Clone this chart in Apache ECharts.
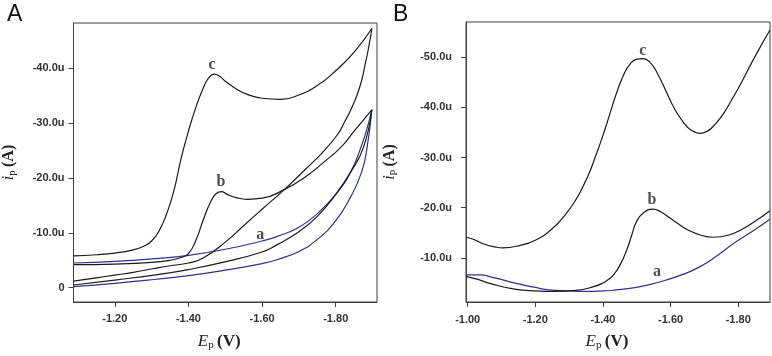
<!DOCTYPE html>
<html>
<head>
<meta charset="utf-8">
<script src="https://cdn.jsdelivr.net/npm/echarts@6/dist/echarts.min.js"></script>
<style>
  html, body { margin: 0; padding: 0; background: #fff; }
  #chart { width: 772px; height: 356px; }
</style>
</head>
<body>
<div id="chart"></div>
<script>
// Panel A: cyclic voltammograms, [E (V), i (uA)]
const aFwdA = [[-1.088,-4.5],[-1.20,-4.8],[-1.307,-5.3],[-1.40,-5.9],[-1.50,-7.0],[-1.60,-8.5],[-1.64,-9.3],[-1.70,-11.0],[-1.75,-13.5],[-1.80,-17.0],[-1.84,-21.0],[-1.868,-25.5],[-1.885,-29.0],[-1.898,-32.4]];
const aRevA = [[-1.898,-32.4],[-1.885,-25.5],[-1.87,-21.0],[-1.84,-16.5],[-1.80,-12.2],[-1.75,-8.8],[-1.70,-6.6],[-1.64,-5.1],[-1.60,-4.4],[-1.50,-3.2],[-1.40,-2.2],[-1.307,-1.5],[-1.20,-0.8],[-1.088,-0.2]];
const bFwdA = [[-1.088,-4.2],[-1.20,-4.3],[-1.30,-4.6],[-1.35,-5.0],[-1.38,-5.5],[-1.40,-6.2],[-1.42,-8.6],[-1.44,-12.3],[-1.46,-15.6],[-1.475,-17.1],[-1.49,-17.5],[-1.505,-17.0],[-1.53,-16.4],[-1.56,-16.1],[-1.60,-16.3],[-1.661,-17.9],[-1.72,-20.3],[-1.77,-23.0],[-1.813,-25.5],[-1.85,-28.5],[-1.898,-32.4]];
const bRevA = [[-1.898,-32.4],[-1.875,-25.5],[-1.84,-21.0],[-1.80,-17.0],[-1.75,-13.0],[-1.70,-10.2],[-1.64,-7.8],[-1.60,-6.5],[-1.493,-4.6],[-1.40,-3.3],[-1.307,-2.3],[-1.20,-1.4],[-1.088,-0.5]];
const cFwdA = [[-1.088,-5.8],[-1.15,-6.0],[-1.20,-6.3],[-1.25,-6.9],[-1.28,-7.6],[-1.30,-8.5],[-1.32,-10.3],[-1.34,-13.3],[-1.36,-17.5],[-1.38,-23.5],[-1.40,-28.5],[-1.42,-32.8],[-1.44,-36.3],[-1.455,-38.2],[-1.47,-38.9],[-1.485,-38.5],[-1.50,-37.6],[-1.53,-36.2],[-1.56,-35.2],[-1.60,-34.5],[-1.65,-34.3],[-1.70,-35.1],[-1.75,-36.8],[-1.80,-39.5],[-1.85,-42.9],[-1.898,-47.2]];
const cRevA = [[-1.898,-47.2],[-1.89,-44.0],[-1.88,-40.7],[-1.865,-36.5],[-1.845,-33.0],[-1.825,-30.3],[-1.805,-27.9],[-1.765,-24.7],[-1.72,-21.7],[-1.661,-17.9],[-1.60,-14.3],[-1.555,-11.6],[-1.50,-8.3],[-1.44,-5.4],[-1.40,-4.5],[-1.35,-4.0],[-1.307,-3.5],[-1.25,-2.8],[-1.20,-2.3],[-1.15,-1.8],[-1.088,-1.2]];

// Panel B: differential pulse voltammograms
const aB = [[-0.995,-6.6],[-1.034,-6.6],[-1.08,-6.0],[-1.143,-4.9],[-1.20,-4.1],[-1.241,-3.6],[-1.30,-3.4],[-1.34,-3.3],[-1.40,-3.4],[-1.438,-3.6],[-1.49,-4.0],[-1.54,-4.7],[-1.588,-5.6],[-1.64,-6.8],[-1.686,-8.2],[-1.735,-10.3],[-1.785,-12.8],[-1.84,-15.2],[-1.894,-17.7]];
const bB = [[-0.995,-6.3],[-1.03,-5.7],[-1.07,-4.8],[-1.143,-3.7],[-1.20,-3.4],[-1.26,-3.3],[-1.32,-3.5],[-1.37,-4.2],[-1.40,-5.0],[-1.418,-5.8],[-1.43,-6.5],[-1.45,-8.5],[-1.47,-11.5],[-1.485,-14.5],[-1.499,-17.2],[-1.52,-19.0],[-1.548,-19.7],[-1.57,-19.2],[-1.595,-18.1],[-1.618,-17.0],[-1.65,-15.6],[-1.69,-14.5],[-1.726,-14.1],[-1.77,-14.5],[-1.814,-15.8],[-1.85,-17.3],[-1.894,-19.4]];
const cB = [[-0.995,-14.1],[-1.02,-13.6],[-1.05,-12.7],[-1.08,-12.2],[-1.103,-12.0],[-1.15,-12.4],[-1.20,-13.5],[-1.25,-15.8],[-1.29,-18.7],[-1.32,-21.6],[-1.34,-24.1],[-1.36,-27.0],[-1.38,-30.6],[-1.40,-34.4],[-1.42,-38.6],[-1.44,-42.8],[-1.46,-46.3],[-1.48,-48.6],[-1.50,-49.6],[-1.519,-49.7],[-1.54,-48.9],[-1.56,-46.9],[-1.588,-43.0],[-1.61,-39.9],[-1.637,-37.1],[-1.66,-35.5],[-1.686,-34.8],[-1.71,-35.3],[-1.73,-36.5],[-1.755,-38.6],[-1.78,-41.4],[-1.81,-45.0],[-1.84,-48.9],[-1.87,-52.6],[-1.894,-55.4]];

// curve labels
const labelsA = [['c',-1.464,-40.5],['b',-1.488,-19.3],['a',-1.595,-9.7]];
const labelsB = [['c',-1.518,-51.3],['b',-1.545,-21.6],['a',-1.560,-7.2]];

// tick labels
const xTicksA = [-1.2,-1.4,-1.6,-1.8];
const xTicksB = [-1.0,-1.2,-1.4,-1.6,-1.8];
const yTicksA = [-40,-30,-20,-10,0];
const yTicksB = [-50,-40,-30,-20,-10];

const BLACK = '#1a1a1a';
const BLUE = '#2e3192';
const FRAME = '#404040';

const chart = echarts.init(document.getElementById('chart'));

function xAxis(idx, min, max, ticks, margin, pad) {
  return {
    type: 'value', gridIndex: idx, inverse: true, min: min, max: max,
    name: '{e|E}{s|p} {v|(V)}', nameLocation: 'middle', nameGap: 31,
    nameTextStyle: {
      padding: [0, pad, 0, 0],
      rich: {
        e: { fontFamily: 'Liberation Serif', fontStyle: 'italic', fontSize: 17, color: '#222' },
        s: { fontFamily: 'Liberation Serif', fontSize: 11, color: '#222', padding: [7, 0, 0, 0] },
        v: { fontFamily: 'Liberation Serif', fontWeight: 'bold', fontSize: 17, color: '#222' }
      }
    },
    axisLine: { show: true, onZero: false, lineStyle: { color: FRAME, width: 1 } },
    axisTick: { show: true, length: 5, customValues: ticks, lineStyle: { color: FRAME } },
    axisLabel: {
      customValues: ticks, margin: margin,
      fontFamily: 'Liberation Sans', fontWeight: 'bold', fontSize: 11, color: '#333',
      formatter: v => v.toFixed(2)
    },
    splitLine: { show: false }
  };
}

function yAxis(idx, min, max, ticks, margin, gap) {
  return {
    type: 'value', gridIndex: idx, inverse: true, min: min, max: max,
    name: '{i|i}{s|p} {a|(A)}', nameLocation: 'middle', nameGap: gap,
    nameTextStyle: {
      rich: {
        i: { fontFamily: 'Liberation Serif', fontStyle: 'italic', fontSize: 16, color: '#222' },
        s: { fontFamily: 'Liberation Serif', fontSize: 11, color: '#222', padding: [6, 0, 0, 0] },
        a: { fontFamily: 'Liberation Serif', fontWeight: 'bold', fontSize: 16, color: '#222' }
      }
    },
    axisLine: { show: true, onZero: false, lineStyle: { color: FRAME, width: 1 } },
    axisTick: { show: true, length: 5, customValues: ticks, lineStyle: { color: FRAME } },
    axisLabel: {
      customValues: ticks, margin: margin,
      fontFamily: 'Liberation Sans', fontWeight: 'bold', fontSize: 11, color: '#333',
      formatter: v => v === 0 ? '0' : v.toFixed(1) + 'u'
    },
    splitLine: { show: false }
  };
}

function curve(data, color, idx) {
  return {
    type: 'line', xAxisIndex: idx, yAxisIndex: idx, data: data,
    showSymbol: false, smooth: 0.5, silent: true,
    lineStyle: { color: color, width: 1.2 }
  };
}

function labels(list, idx) {
  return {
    type: 'scatter', xAxisIndex: idx, yAxisIndex: idx, symbolSize: 0, silent: true,
    data: list.map(l => ({ name: l[0], value: [l[1], l[2]] })),
    label: {
      show: true, position: 'inside', formatter: p => p.name,
      fontFamily: 'Liberation Serif', fontWeight: 'bold', fontSize: 16, color: '#222'
    }
  };
}

const option = {
  animation: false,
  title: [
    { text: 'A', left: 2, top: -2, textStyle: { fontFamily: 'Liberation Sans', fontWeight: 'normal', fontSize: 23, color: '#111' } },
    { text: 'B', left: 388, top: -2, textStyle: { fontFamily: 'Liberation Sans', fontWeight: 'normal', fontSize: 23, color: '#111' } }
  ],
  grid: [
    { left: 68, top: 23, width: 309, height: 285, show: true, borderColor: FRAME, borderWidth: 1 },
    { left: 466, top: 22, width: 304, height: 284, show: true, borderColor: FRAME, borderWidth: 1 }
  ],
  xAxis: [
    xAxis(0, -1.912, -1.088, xTicksA, 11, 12),
    xAxis(1, -1.894, -0.995, xTicksB, 12, 22)
  ],
  yAxis: [
    yAxis(0, -48.2, 2.6, yTicksA, 9, 56),
    yAxis(1, -57.0, -1.2, yTicksB, 14, 68)
  ],
  series: [
    curve(aFwdA, BLUE, 0), curve(aRevA, BLUE, 0),
    curve(bFwdA, BLACK, 0), curve(bRevA, BLACK, 0),
    curve(cFwdA, BLACK, 0), curve(cRevA, BLACK, 0),
    curve(aB, BLUE, 1), curve(bB, BLACK, 1), curve(cB, BLACK, 1),
    labels(labelsA, 0), labels(labelsB, 1)
  ]
};

chart.setOption(option);
</script>
</body>
</html>
